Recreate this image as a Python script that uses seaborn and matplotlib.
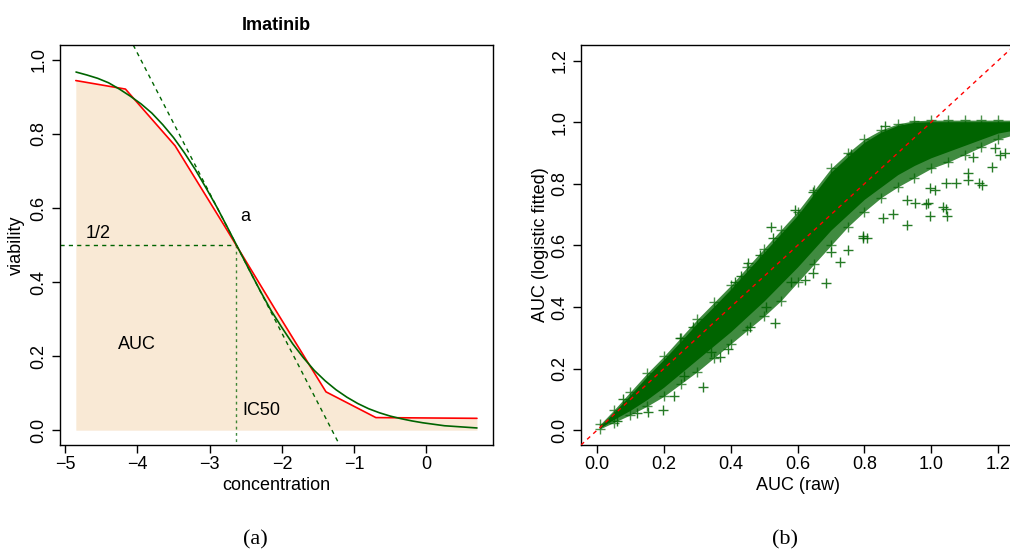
import numpy as np
import pandas as pd
import matplotlib
matplotlib.use("Agg")
import matplotlib.pyplot as plt
import seaborn as sns

# ---------------- data: panel (a) ----------------
conc = [-4.853, -4.166, -3.479, -2.79, -2.09, -1.39, -0.699, 0.70]
viab_raw = [0.944, 0.921, 0.768, 0.550, 0.325, 0.1035, 0.034, 0.032]

fit_conc = [-4.85, -4.7, -4.55, -4.4, -4.25, -4.1, -3.95, -3.8, -3.65, -3.5,
            -3.35, -3.2, -3.05, -2.9, -2.75, -2.6, -2.45, -2.3, -2.15, -2.0,
            -1.85, -1.7, -1.55, -1.4, -1.25, -1.1, -0.95, -0.8, -0.65, -0.5,
            -0.35, -0.2, -0.05, 0.1, 0.25, 0.4, 0.55, 0.7]
fit_viab = [0.967, 0.959, 0.950, 0.938, 0.921, 0.902, 0.881, 0.856, 0.825, 0.790,
            0.749, 0.704, 0.654, 0.602, 0.546, 0.489, 0.432, 0.376, 0.323, 0.277,
            0.233, 0.195, 0.161, 0.133, 0.109, 0.089, 0.072, 0.058, 0.047, 0.038,
            0.031, 0.025, 0.020, 0.016, 0.012, 0.010, 0.008, 0.006]

ic50 = -2.63
half = 0.5
tangent_slope = -0.378

# ---------------- data: panel (b) ----------------
band_x = [0.01, 0.05, 0.10, 0.15, 0.20, 0.25, 0.30, 0.35, 0.40, 0.45, 0.50, 0.55, 0.60,
          0.65, 0.70, 0.75, 0.80, 0.85, 0.90, 0.95, 1.00, 1.05, 1.10, 1.15, 1.20, 1.25]
core_lo = [0.008, 0.035, 0.065, 0.100, 0.140, 0.185, 0.230, 0.275, 0.320, 0.370, 0.420, 0.475, 0.530,
           0.590, 0.650, 0.700, 0.750, 0.790, 0.830, 0.860, 0.885, 0.905, 0.925, 0.945, 0.965, 0.975]
core_hi = [0.015, 0.058, 0.115, 0.175, 0.230, 0.288, 0.348, 0.402, 0.458, 0.518, 0.578, 0.638, 0.698,
           0.768, 0.838, 0.888, 0.935, 0.968, 0.990, 1.000, 1.002, 1.002, 1.002, 1.002, 1.002, 1.002]
fringe_lo = [0.005, 0.025, 0.050, 0.078, 0.110, 0.150, 0.190, 0.235, 0.280, 0.325, 0.370, 0.420, 0.480,
             0.540, 0.600, 0.660, 0.710, 0.755, 0.790, 0.820, 0.850, 0.870, 0.895, 0.920, 0.945, 0.960]
fringe_hi = [0.020, 0.065, 0.125, 0.185, 0.240, 0.300, 0.360, 0.415, 0.470, 0.530, 0.590, 0.650, 0.710,
             0.780, 0.850, 0.900, 0.945, 0.975, 0.995, 1.005, 1.007, 1.007, 1.007, 1.007, 1.007, 1.007]

out_x = [0.316, 0.532, 0.684, 0.230, 0.198, 0.153, 0.367, 0.392, 0.457, 0.507,
         0.622, 0.647, 0.727, 0.807, 0.797, 0.752, 0.487, 0.452, 0.412, 0.432,
         0.287, 0.078, 0.248, 0.522, 0.527, 0.592, 0.645, 0.760, 0.863, 0.929,
         0.998, 1.048, 1.045, 0.991, 1.011, 0.996, 1.074, 1.044, 1.111, 1.111,
         1.144, 1.151, 1.181, 1.126, 1.206, 1.190, 1.220, 0.951, 0.929, 0.856,
         0.886, 0.797, 1.036, 0.986, 0.120, 0.260, 0.340, 0.580, 0.700, 0.060]
out_y = [0.139, 0.347, 0.477, 0.110, 0.065, 0.060, 0.238, 0.265, 0.336, 0.400,
         0.487, 0.510, 0.547, 0.623, 0.630, 0.585, 0.569, 0.542, 0.482, 0.500,
         0.336, 0.103, 0.298, 0.661, 0.625, 0.715, 0.772, 0.897, 0.989, 0.666,
         0.695, 0.695, 0.720, 0.737, 0.780, 0.785, 0.802, 0.802, 0.834, 0.813,
         0.802, 0.797, 0.856, 0.888, 0.894, 0.915, 0.900, 0.737, 0.748, 0.688,
         0.703, 0.625, 0.726, 0.736, 0.055, 0.175, 0.255, 0.480, 0.580, 0.030]

# ---------------- styling ----------------
sns.set_style("ticks")
plt.rcParams['font.family'] = ['Liberation Sans', 'DejaVu Sans']
plt.rcParams['axes.linewidth'] = 1.0
for key in ("text.color", "axes.labelcolor", "xtick.color", "ytick.color", "axes.edgecolor"):
    plt.rcParams[key] = "black"

GREEN = "#006400"
FILL = "#F9E9D5"
FS = 13

fig = plt.figure(figsize=(10.10, 5.55), dpi=100)
axA = fig.add_axes([60/1010, 1-445/555, (493-60)/1010, 400/555])
axB = fig.add_axes([581/1010, 1-445/555, (1014-581)/1010, 400/555])

# ---------------- panel (a) ----------------
dfa = pd.DataFrame({"conc": conc, "viab": viab_raw})
dff = pd.DataFrame({"conc": fit_conc, "viab": fit_viab})
axA.fill_between(dfa["conc"], 0, dfa["viab"], color=FILL, lw=0, zorder=1)
sns.lineplot(data=dfa, x="conc", y="viab", ax=axA, color="red", lw=1.2,
             sort=False, estimator=None, zorder=3)
sns.lineplot(data=dff, x="conc", y="viab", ax=axA, color=GREEN, lw=1.2,
             sort=False, estimator=None, zorder=4)
axA.axline((ic50, half), slope=tangent_slope, color=GREEN, lw=1.0,
           ls=(0, (3, 3)), zorder=2)
axA.set_xlim(-5.072, 0.922)
axA.set_ylim(-0.04, 1.04)
axA.plot([-5.072, ic50], [half, half], color=GREEN, lw=1.0, ls=(0, (3, 3)), zorder=2)
axA.plot([ic50, ic50], [half, -0.04], color=GREEN, lw=1.0, ls=(0, (2, 2.5)),
         alpha=0.75, zorder=2, clip_on=True)
axA.text(-4.55, 0.53, "1/2", fontsize=FS, ha="center", va="center")
axA.text(-2.51, 0.578, "a", fontsize=FS, ha="center", va="center")
axA.text(-4.01, 0.232, "AUC", fontsize=FS, ha="center", va="center")
axA.text(-2.28, 0.054, "IC50", fontsize=FS, ha="center", va="center")
axA.set_xticks([-5, -4, -3, -2, -1, 0])
axA.set_yticks([0.0, 0.2, 0.4, 0.6, 0.8, 1.0])
axA.set_yticklabels(["0.0", "0.2", "0.4", "0.6", "0.8", "1.0"])
axA.set_xlabel("concentration", fontsize=FS, labelpad=3)
axA.set_ylabel("viability", fontsize=FS, labelpad=4)
axA.set_title("Imatinib", fontsize=FS, fontweight="bold", pad=11)

# ---------------- panel (b) ----------------
axB.fill_between(band_x, fringe_lo, fringe_hi, color=GREEN, alpha=0.75, lw=0, zorder=1)
axB.fill_between(band_x, core_lo, core_hi, color=GREEN, lw=0, zorder=2)
dfo = pd.DataFrame({"x": out_x, "y": out_y})
sns.scatterplot(data=dfo, x="x", y="y", ax=axB, marker="+", s=50, color=GREEN,
                linewidth=1.0, alpha=0.85, zorder=3)
edge = pd.DataFrame({"x": band_x + band_x, "y": fringe_lo + fringe_hi})
sns.scatterplot(data=edge, x="x", y="y", ax=axB, marker="+", s=50, color=GREEN,
                linewidth=1.0, alpha=0.7, zorder=3)
axB.axline((0, 0), slope=1, color="red", lw=1.0, ls=(0, (3, 3)), zorder=5)
axB.set_xlim(-0.048, 1.248)
axB.set_ylim(-0.048, 1.251)
ticksB = [0.0, 0.2, 0.4, 0.6, 0.8, 1.0, 1.2]
axB.set_xticks(ticksB)
axB.set_xticklabels(["0.0", "0.2", "0.4", "0.6", "0.8", "1.0", "1.2"])
axB.set_yticks(ticksB)
axB.set_yticklabels(["0.0", "0.2", "0.4", "0.6", "0.8", "1.0", "1.2"])
axB.set_xlabel("AUC (raw)", fontsize=FS, labelpad=3)
axB.set_ylabel("AUC (logistic fitted)", fontsize=FS, labelpad=2)

for ax in (axA, axB):
    for s in ax.spines.values():
        s.set_visible(True)
        s.set_color("black")
    ax.tick_params(axis="both", labelsize=FS, length=6, width=1.0, pad=2, direction="out",
                   colors="black")
    ax.tick_params(axis="y", labelrotation=90, pad=3)
    for lab in ax.get_yticklabels():
        lab.set_va("center")

fig.text(255/1010, 1-540/555, "(a)", fontsize=16, family=["Liberation Serif", "DejaVu Serif"],
         ha="center", va="center")
fig.text(785/1010, 1-540/555, "(b)", fontsize=16, family=["Liberation Serif", "DejaVu Serif"],
         ha="center", va="center")

fig.savefig("out.png", dpi=100)
